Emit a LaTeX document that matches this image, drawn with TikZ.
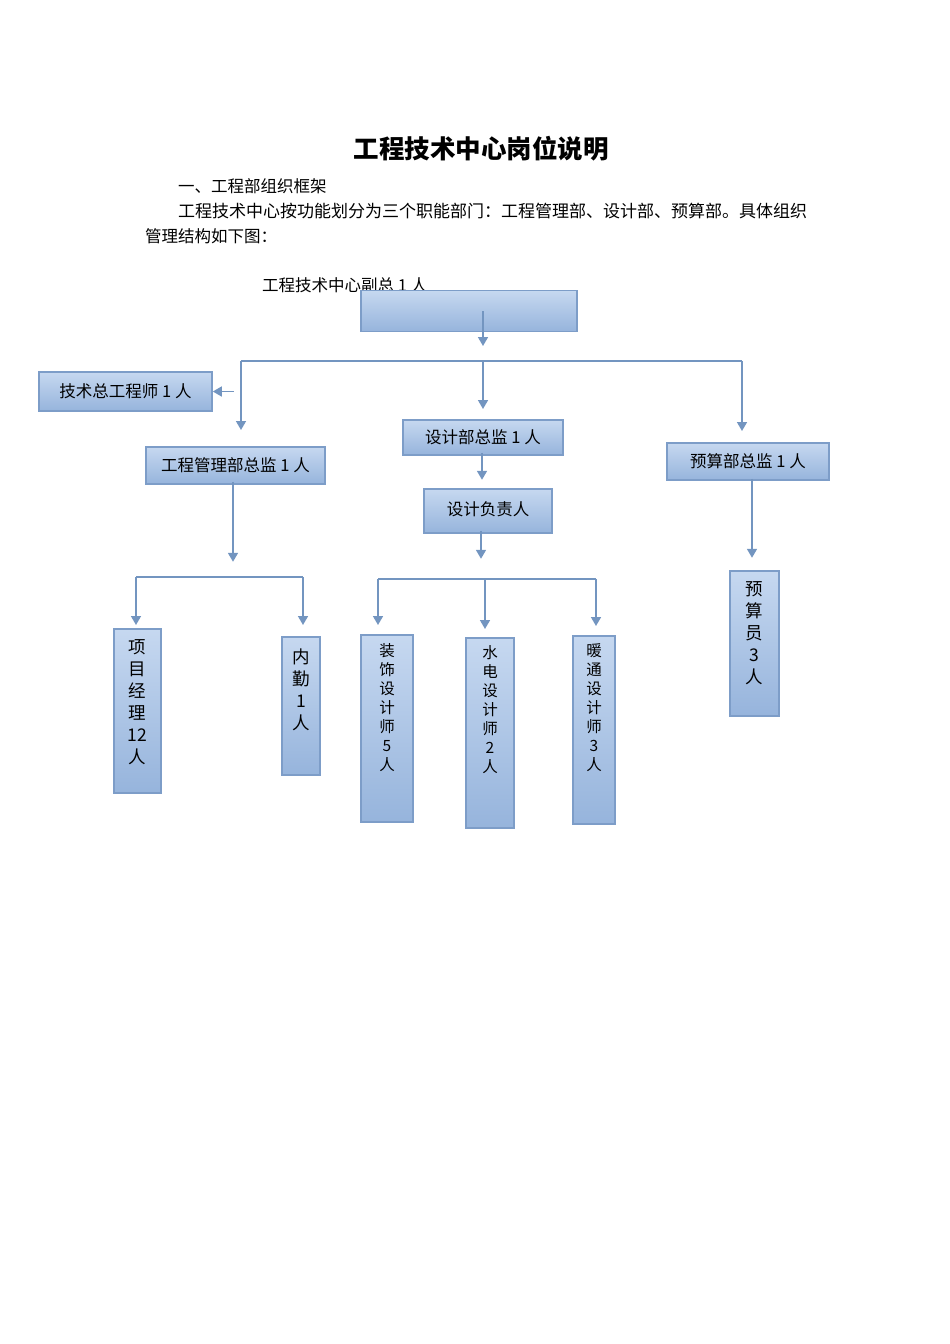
\documentclass[tikz,border=0pt]{standalone}
\usepackage{fontspec}
\setmainfont{Noto Sans CJK SC}
\usetikzlibrary{arrows.meta, positioning}
\definecolor{boxtop}{RGB}{198,216,240}
\definecolor{boxbot}{RGB}{150,180,220}
\definecolor{boxline}{RGB}{125,157,200}
\definecolor{linec}{RGB}{115,149,192}
% vertical text column inside a tall box: height, width, text
\newcommand{\coltext}[3]{\parbox[c][#1][t]{#2}{\centering\vspace*{11pt}#3\par}}

\begin{document}
\begin{tikzpicture}[
  x=1pt, y=-1pt,
  font=\fontsize{16.5pt}{20pt}\selectfont,
  box/.style={draw=boxline, line width=1.6pt, top color=boxtop, bottom color=boxbot, inner sep=0pt},
  hbox/.style={box, align=center},
  line/.style={draw=linec, line width=1.6pt},
  arr/.style={line, -{Triangle[width=10pt,length=9pt]}},
  big/.style={font=\fontsize{17.5pt}{22pt}\selectfont},
  mid/.style={font=\fontsize{15.5pt}{19pt}\selectfont}
]
\useasboundingbox (0,0) rectangle (950,1344);

% Heading and intro text
\node[font=\fontsize{25.5pt}{30pt}\selectfont\bfseries] (title) at (481,149) {工程技术中心岗位说明};
\node[anchor=west, font=\fontsize{16.5pt}{20pt}\selectfont, inner sep=0pt] (par1) at (178,186) {一、工程部组织框架};
\node[anchor=west, font=\fontsize{17pt}{20pt}\selectfont, inner sep=0pt] (par2) at (178,211) {工程技术中心按功能划分为三个职能部门：工程管理部、设计部、预算部。具体组织};
\node[anchor=west, font=\fontsize{16.5pt}{20pt}\selectfont, inner sep=0pt] (par3) at (145,236) {管理结构如下图：};

% Top level
\node[anchor=west, inner sep=0pt] (vplabel) at (262,285) {工程技术中心副总 1 人};
\node[box, minimum width=216pt, minimum height=41pt] (vp) at (469,311) {};

% Second level
\node[hbox, minimum width=173pt, minimum height=39pt] (cheng) at (125.5,391.5) {技术总工程师 1 人};
\node[hbox, minimum width=179pt, minimum height=37pt] (gcz) at (235.5,465.5) {工程管理部总监 1 人};
\node[hbox, minimum width=160pt, minimum height=35pt] (sjz) at (483,437.5) {设计部总监 1 人};
\node[hbox, minimum width=128pt, minimum height=44pt] (sjf) at (488,511) {\raisebox{4pt}{设计负责人}};
\node[hbox, minimum width=162pt, minimum height=37pt] (ysz) at (748,461.5) {预算部总监 1 人};

% Staff columns
\node[box, big] (xmjl) at (137.5,711) {\coltext{164pt}{47pt}{项\\目\\经\\理\\12\\人}};
\node[box, big] (nq) at (301,706) {\coltext{138pt}{38pt}{\vspace*{1pt}内\\勤\\1\\人}};
\node[box, mid] (zs) at (387,728.5) {\coltext{187pt}{52pt}{\vspace*{-3pt}装\\饰\\设\\计\\师\\5\\人}};
\node[box, mid] (sd) at (490,733) {\coltext{190pt}{48pt}{\vspace*{-3pt}水\\电\\设\\计\\师\\2\\人}};
\node[box, mid] (nt) at (594,730) {\coltext{188pt}{42pt}{\vspace*{-3pt}暖\\通\\设\\计\\师\\3\\人}};
\node[box, big] (ysy) at (754.5,643.5) {\coltext{145pt}{49pt}{预\\算\\员\\3\\人}};

% Connectors, top level
\coordinate (busL) at (241,361);
\coordinate (busR) at (742,361);
\draw[arr] ([xshift=14pt]vp.center) -- ++(0,35);
\draw[line] (busL) -- (busR);
\draw[arr] (busL) -- ++(0,69);
\draw[arr] (sjz.north |- busL) -- ++(0,48);
\draw[arr] (busR) -- ++(0,70);
\draw[arr] ([xshift=21pt]cheng.east) -- (cheng.east);

% Design branch
\draw[arr] ([xshift=-1pt,yshift=3pt]sjz.south) -- ++(0,27);
\draw[arr] ([xshift=-7pt,yshift=3pt]sjf.south) -- ++(0,28);
\coordinate (dL) at (378,579);
\coordinate (dM) at (485,579);
\coordinate (dR) at (596,579);
\draw[line] (dL) -- (dR);
\draw[arr] (dL) -- ++(0,46);
\draw[arr] (dM) -- ++(0,50);
\draw[arr] (dR) -- ++(0,47);

% Project management branch
\draw[arr] ([xshift=-2.5pt,yshift=3pt]gcz.south) -- ++(0,80);
\coordinate (gL) at (136,577);
\coordinate (gR) at (303,577);
\draw[line] (gL) -- (gR);
\draw[arr] (gL) -- ++(0,48);
\draw[arr] (gR) -- ++(0,48);

% Budget branch
\draw[arr] ([xshift=4pt,yshift=2pt]ysz.south) -- ++(0,79);
\end{tikzpicture}
\end{document}
